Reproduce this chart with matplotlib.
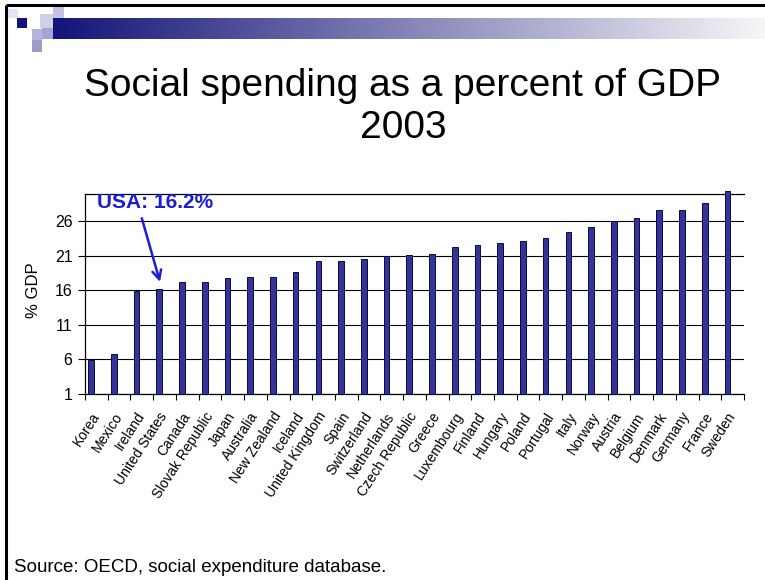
import numpy as np
import matplotlib
matplotlib.use('Agg')
from matplotlib import pyplot as plt
from matplotlib.patches import Rectangle

plt.rcParams['font.family'] = ['Liberation Sans', 'DejaVu Sans']

# social expenditure, percent of GDP, 2003
countries = ['Korea', 'Mexico', 'Ireland', 'United States', 'Canada',
             'Slovak Republic', 'Japan', 'Australia', 'New Zealand', 'Iceland',
             'United Kingdom', 'Spain', 'Switzerland', 'Netherlands',
             'Czech Republic', 'Greece', 'Luxembourg', 'Finland', 'Hungary',
             'Poland', 'Portugal', 'Italy', 'Norway', 'Austria', 'Belgium',
             'Denmark', 'Germany', 'France', 'Sweden']
spending = [5.9, 6.8, 15.9, 16.2, 17.2, 17.2, 17.7, 17.9, 17.9, 18.6,
            20.2, 20.2, 20.5, 20.9, 21.1, 21.3, 22.3, 22.6, 22.8, 23.1,
            23.5, 24.4, 25.2, 26.0, 26.5, 27.6, 27.6, 28.6, 30.4]
y_ticks = [1, 6, 11, 16, 21, 26]

usa_label = 'USA: 16.2%'
usa_index = countries.index('United States')

W, H = 765, 580
fig = plt.figure(figsize=(W / 100, H / 100), dpi=100)

# slide decoration drawn in pixel coordinates
deco = fig.add_axes([0, 0, 1, 1], zorder=0)
deco.set_xlim(0, W)
deco.set_ylim(H, 0)
deco.axis('off')

grad = np.linspace(0, 1, 256)
navy = np.array([20, 20, 120]) / 255.0
pale = np.array([246, 246, 248]) / 255.0
grad_img = (navy[None, :] * (1 - grad[:, None]) + pale[None, :] * grad[:, None])[None, :, :]
deco.imshow(grad_img, extent=(53, W, 39, 18), aspect='auto', interpolation='bilinear')

squares = [
    (8, 9, 10, 9, '#e4e4f2'),
    (17, 18, 10, 10, '#12127a'),
    (40, 14, 13, 14, '#cfcfe8'),
    (53, 5, 11, 13, '#c4c4e0'),
    (32, 29, 10, 11, '#b4b4dc'),
    (42, 28, 11, 11, '#a4a4d4'),
    (32, 40, 10, 12, '#9c9cc4'),
]
for x0, y0, w, h, c in squares:
    deco.add_patch(Rectangle((x0, y0), w, h, facecolor=c, edgecolor='none'))

deco.plot([6, W], [5, 5], color='black', lw=2.2, solid_capstyle='butt')
deco.plot([6.5, 6.5], [5, H], color='black', lw=2.2, solid_capstyle='butt')

# titles and notes
fig.text(403 / W, 1 - 86 / H, 'Social spending as a percent of GDP',
         ha='center', va='center', fontsize=28)
fig.text(403 / W, 1 - 128 / H, '2003', ha='center', va='center', fontsize=28)
fig.text(14 / W, 1 - 567 / H, 'Source: OECD, social expenditure database.',
         ha='left', va='center', fontsize=13.5)
fig.text(33 / W, 1 - 290 / H, '% GDP', rotation=90, ha='center', va='center',
         fontsize=12)

# bar chart
left, right, top, bottom = 85, 744, 194, 394
ax = fig.add_axes([left / W, 1 - bottom / H, (right - left) / W, (bottom - top) / H])

x = np.arange(len(countries))
bar_shift = -0.23
ax.bar(x + bar_shift, np.array(spending) - 1, bottom=1, width=0.25,
       color='#33339a', edgecolor='#0a0a40', linewidth=0.7, zorder=3, clip_on=False)

ax.set_xlim(-0.5, len(countries) - 0.5)
ax.set_ylim(1, 29.9)
ax.set_yticks(y_ticks)
ax.set_yticklabels([str(t) for t in y_ticks], fontsize=11.5)
ax.tick_params(axis='y', length=5, width=0.8, pad=4)

ax.set_xticks(x)
ax.set_xticklabels(countries, rotation=57, ha='right', va='center',
                   rotation_mode='anchor', fontsize=10)
ax.tick_params(axis='x', which='major', length=0, pad=14)
ax.set_xticks(np.arange(len(countries) + 1) - 0.5, minor=True)
ax.tick_params(axis='x', which='minor', length=4, width=0.8)

ax.grid(axis='y', color='black', lw=0.8, zorder=1)
for side in ['left', 'bottom', 'top']:
    ax.spines[side].set_linewidth(0.9)
ax.spines['right'].set_visible(False)

# call-out for the United States
ax.text(2.58, 28.6, usa_label, ha='center', va='center', fontsize=15,
        fontweight='bold', color='#1c1cd8', clip_on=False)
ax.annotate('', xy=(usa_index + bar_shift + 0.03, spending[usa_index] + 1.0),
            xytext=(2.0, 26.4),
            arrowprops=dict(arrowstyle='->', color='#1c1cd8', lw=1.8,
                            mutation_scale=16, shrinkA=0, shrinkB=0),
            annotation_clip=False)

fig.savefig('out.png', dpi=100)
